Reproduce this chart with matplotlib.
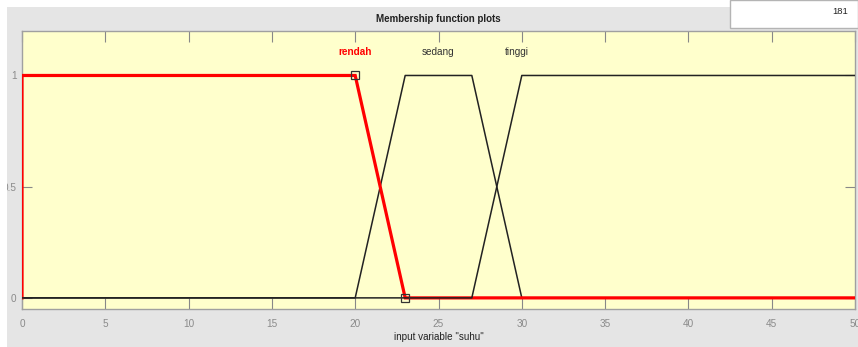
#!/usr/bin/env python3
"""Membership function plots for input variable "suhu"."""

import numpy as np
import matplotlib.pyplot as plt
from matplotlib.patches import Rectangle

# --- data ---------------------------------------------------------------
mf_names = ['rendah', 'sedang', 'tinggi']
mf_params = [[0, 0, 20, 23], [20, 23, 27, 30], [27, 30, 50, 50]]
x_range = [0, 50]
x_ticks = [0, 5, 10, 15, 20, 25, 30, 35, 40, 45, 50]
y_ticks = [0, 0.5, 1]
selected = 'rendah'
label_x = [20, 25, 29.7]


def trapmf_points(p, lo, hi):
    a, b, c, d = p
    xs = [lo, a, b, c, d, hi]
    ys = [0, 0, 1, 1, 0, 0]
    if a == b:
        ys[1] = 1
    if c == d:
        ys[4] = 1
        ys[5] = 1
    return xs, ys


plt.rcParams['font.family'] = ['Liberation Sans', 'DejaVu Sans']

W, H = 858, 347
fig = plt.figure(figsize=(W / 100, H / 100), dpi=100, facecolor='white')

# window background pieces
fig.patches.append(Rectangle((7 / W, 0), 1 - 7 / W, 1 - 7 / H, transform=fig.transFigure,
                             facecolor='#e5e5e5', edgecolor='none', zorder=-2))
fig.patches.append(Rectangle((730 / W, 1 - 28 / H), (W - 730) / W, 28 / H, transform=fig.transFigure,
                             facecolor='white', edgecolor='#b4b4b4', linewidth=1, zorder=-1))
# white screen edge on the left hides part of the "0.5" label
fig.patches.append(Rectangle((0, 0), 7 / W, 1, transform=fig.transFigure,
                             facecolor='white', edgecolor='none', zorder=5))
fig.text(848 / W, 1 - 11 / H, '181', ha='right', va='center', fontsize=6.8, color='#222222')
fig.text(438 / W, 1 - 19 / H, 'Membership function plots', ha='center', va='center',
         fontsize=7, fontweight='bold', color='#222222')

ax = fig.add_axes([22 / W, 1 - 309 / H, (855 - 22) / W, (309 - 31) / H])
ax.set_zorder(1)
ax.set_facecolor('#ffffcc')

lines = {}
for name, p in zip(mf_names, mf_params):
    lines[name] = trapmf_points(p, x_range[0], x_range[1])

# sedang below, selected in red, tinggi on top
xs, ys = lines['sedang']
ax.plot(xs, ys, color='#222222', lw=1.1, zorder=2)
xs, ys = lines[selected]
ax.plot(xs, ys, color='red', lw=2.3, zorder=3, solid_joinstyle='miter')
p = mf_params[mf_names.index(selected)]
ax.plot([p[2], p[3]], [1, 0], ls='none', marker='s', ms=5.5, mfc='none',
        mec='#333333', mew=0.9, zorder=5)
xs, ys = lines['tinggi']
ax.plot(xs, ys, color='#222222', lw=1.1, zorder=4)

for name, lx in zip(mf_names, label_x):
    if name == selected:
        ax.text(lx, 1.105, name, ha='center', va='center', fontsize=7.2,
                color='red', fontweight='bold')
    else:
        ax.text(lx, 1.105, name, ha='center', va='center', fontsize=7.2, color='#333333')

ax.set_xlim(x_range)
ax.set_ylim(-0.05, 1.2)
ax.set_xticks(x_ticks)
ax.set_yticks(y_ticks)
ax.set_yticklabels(['0', '0.5', '1'])
ax.tick_params(axis='both', direction='in', colors='#888888', labelcolor='#8a8a8a',
               labelsize=7.2, length=8, width=0.8, top=True, right=True)
ax.tick_params(axis='x', pad=7)
ax.tick_params(axis='y', length=7, pad=4)
for s in ax.spines.values():
    s.set_color('#a0a0a0')
    s.set_linewidth(1)

ax.set_xlabel('input variable "suhu"', fontsize=7.1, color='#222222', labelpad=2)

fig.savefig('out.png', dpi=100)
